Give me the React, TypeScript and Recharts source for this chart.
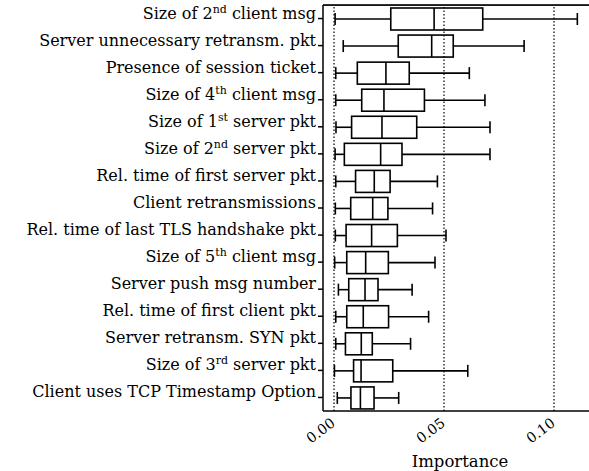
import { Bar, ComposedChart, ReferenceLine, XAxis, YAxis, usePlotArea } from "recharts";

// "|" marks a superscript part of a label
const categories = [
  "Size of 2|nd| client msg",
  "Server unnecessary retransm. pkt",
  "Presence of session ticket",
  "Size of 4|th| client msg",
  "Size of 1|st| server pkt",
  "Size of 2|nd| server pkt",
  "Rel. time of first server pkt",
  "Client retransmissions",
  "Rel. time of last TLS handshake pkt",
  "Size of 5|th| client msg",
  "Server push msg number",
  "Rel. time of first client pkt",
  "Server retransm. SYN pkt",
  "Size of 3|rd| server pkt",
  "Client uses TCP Timestamp Option",
];

const whiskerLow = [0.0005, 0.0042, 0.0008, 0.0008, 0.0009, 0.0005, 0.0008, 0.0006, 0.0006, 0.0003, 0.002, 0.0008, 0.0008, 0.0002, 0.0015];
const q1 = [0.0258, 0.0292, 0.0106, 0.0126, 0.008, 0.0047, 0.0098, 0.0076, 0.0055, 0.0058, 0.0067, 0.0058, 0.0052, 0.0089, 0.0077];
const median = [0.0455, 0.0444, 0.0236, 0.0227, 0.0218, 0.0212, 0.0183, 0.0176, 0.0171, 0.0144, 0.0141, 0.0133, 0.0124, 0.0123, 0.012];
const q3 = [0.0676, 0.0542, 0.0342, 0.0411, 0.0376, 0.0309, 0.0255, 0.0245, 0.0288, 0.0247, 0.02, 0.0248, 0.0174, 0.0267, 0.0182];
const whiskerHigh = [0.1106, 0.0864, 0.0615, 0.0686, 0.0709, 0.0709, 0.047, 0.0448, 0.0509, 0.0459, 0.0355, 0.043, 0.0348, 0.0608, 0.0294];

const xTicks = [0, 0.05, 0.1];

const data = categories.map((name, i) => ({
  name,
  lo: whiskerLow[i],
  q1: q1[i],
  med: median[i],
  q3: q3[i],
  hi: whiskerHigh[i],
  range: [whiskerLow[i], whiskerHigh[i]],
}));

const FONT = "'DejaVu Serif', serif";

const BoxShape = (props: any) => {
  const { x, y, width, height, payload } = props;
  const { lo, hi } = payload;
  const sx = (v: number) => x + ((v - lo) / (hi - lo)) * width;
  const cy = y + height / 2;
  const cap = 6;
  return (
    <g stroke="#000" strokeWidth={1.6} fill="none">
      <line x1={sx(lo)} x2={sx(payload.q1)} y1={cy} y2={cy} />
      <line x1={sx(payload.q3)} x2={sx(hi)} y1={cy} y2={cy} />
      <line x1={sx(lo)} x2={sx(lo)} y1={cy - cap} y2={cy + cap} />
      <line x1={sx(hi)} x2={sx(hi)} y1={cy - cap} y2={cy + cap} />
      <rect x={sx(payload.q1)} y={y} width={sx(payload.q3) - sx(payload.q1)} height={height} fill="#fff" />
      <line x1={sx(payload.med)} x2={sx(payload.med)} y1={y} y2={y + height} />
    </g>
  );
};

// top edge of the frame
const TopBorder = () => {
  const area = usePlotArea();
  if (!area) return null;
  return <rect x={area.x} y={area.y - 0.8} width={area.width} height={1.7} fill="#000" />;
};

const CategoryTick = ({ x, y, payload }: any) => {
  const parts = String(payload.value).split("|");
  return (
    <text x={x} y={y} dy={5.5} textAnchor="end" fontFamily={FONT} fontSize={16} fill="#000">
      {parts.map((p, i) =>
        i % 2 === 1 ? (
          <tspan key={i} dy={-6} fontSize={11}>
            {p}
          </tspan>
        ) : (
          <tspan key={i} dy={i > 0 ? 6 : 0}>
            {p}
          </tspan>
        )
      )}
    </text>
  );
};

const ValueTick = ({ x, y, payload }: any) => (
  <g transform={`translate(${x + 2},${y + 6})`}>
    <text x={0} y={0} textAnchor="end" transform="rotate(-37)" fontFamily={FONT} fontSize={14} fill="#000">
      {payload.value.toFixed(2)}
    </text>
  </g>
);

export default function App() {
  return (
    <div style={{ position: "absolute", left: 0, top: 0, width: 589, height: 471, background: "#fff" }}>
      <ComposedChart
        width={589}
        height={471}
        data={data}
        layout="vertical"
        margin={{ top: 5, right: 0, bottom: 0, left: 0 }}
      >
        {xTicks.map((t) => (
          <ReferenceLine key={t} x={t} stroke="#000" strokeWidth={1.2} strokeDasharray="1.5 2" />
        ))}
        <XAxis
          type="number"
          domain={[-0.005, 0.1159]}
          allowDataOverflow
          ticks={xTicks}
          height={60}
          tickLine={false}
          axisLine={{ stroke: "#000", strokeWidth: 1.5 }}
          tick={<ValueTick />}
          interval={0}
          label={{ value: "Importance", position: "insideBottom", offset: 4, fontFamily: FONT, fontSize: 16.5, fill: "#000", dx: 4 }}
        />
        <YAxis
          type="category"
          dataKey="name"
          width={323}
          interval={0}
          tickSize={5}
          tickMargin={2}
          tickLine={{ stroke: "#000", strokeWidth: 1.5 }}
          axisLine={{ stroke: "#000", strokeWidth: 1.5 }}
          tick={<CategoryTick />}
        />
        <Bar dataKey="range" barSize={22} shape={<BoxShape />} isAnimationActive={false} />
        <TopBorder />
      </ComposedChart>
    </div>
  );
}
